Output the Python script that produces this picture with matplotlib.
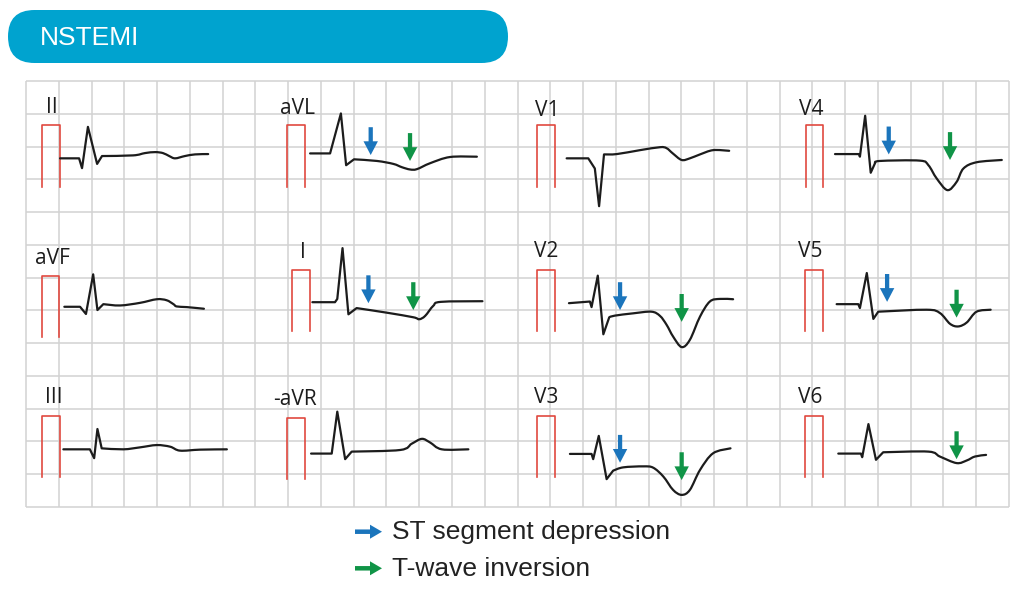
import matplotlib.pyplot as plt
from matplotlib.patches import FancyBboxPatch, PathPatch
from matplotlib.path import Path

# ECG grid: 30 x 13 large boxes, all lead data below is in box units
N_COLS = 30
N_ROWS = 13

lead_names = ["II", "aVL", "V1", "V4", "aVF", "I", "V2", "V5", "III", "-aVR", "V3", "V6"]
label_x = [0.61, 7.75, 15.53, 23.59, 0.27, 8.35, 15.50, 23.56, 0.58, 7.54, 15.50, 23.56]
label_y = [12.03, 12.00, 11.94, 11.96, 7.41, 7.59, 7.64, 7.64, 3.16, 3.11, 3.16, 3.16]

# calibration pulse: left edge and bottom
pulse_x = [0.50, 7.96, 15.61, 23.79, 0.48, 8.13, 15.61, 23.77, 0.50, 7.96, 15.61, 23.77]
pulse_y = [9.78, 9.78, 9.78, 9.78, 5.18, 5.37, 5.37, 5.37, 0.92, 0.85, 0.92, 0.92]
PULSE_W = 0.54
PULSE_H = 1.87

# where each trace starts
start_x = [1.04, 8.67, 16.50, 24.69, 1.17, 8.74, 16.57, 24.74, 1.14, 8.70, 16.60, 24.79]
start_y = [10.64, 10.79, 10.64, 10.77, 6.11, 6.25, 6.22, 6.19, 1.76, 1.63, 1.62, 1.63]

# traces: time and amplitude relative to the start point
ii_t = [0, 0.58, 0.67, 0.85, 1.13, 1.28, 2.23, 2.59, 2.90, 3.14, 3.33, 3.51, 3.81, 4.12, 4.52]
ii_v = [0, 0, -0.30, 0.96, -0.17, 0.07, 0.09, 0.16, 0.19, 0.16, 0.07, 0, 0.07, 0.12, 0.13]
avl_t = [0, 0.61, 0.94, 1.10, 1.34, 2.04, 2.54, 2.80, 3.05, 3.26, 3.66, 4.27, 5.09]
avl_v = [0, 0, 1.22, -0.36, -0.18, -0.23, -0.32, -0.42, -0.49, -0.48, -0.30, -0.11, -0.10]
v1_t = [0, 0.66, 0.86, 0.99, 1.14, 1.53, 2.24, 2.85, 3.05, 3.24, 3.51, 3.76, 4.07, 4.47, 4.96]
v1_v = [0, 0, -0.31, -1.46, 0.12, 0.13, 0.25, 0.34, 0.31, 0.15, -0.05, 0, 0.12, 0.25, 0.23]
v4_t = [0, 0.73, 0.76, 0.92, 1.09, 1.22, 1.37, 2.59, 2.85, 3.10, 3.43, 3.71, 3.92, 4.32, 5.09]
v4_v = [0, 0, -0.08, 1.17, -0.57, -0.28, -0.21, -0.20, -0.34, -0.74, -1.10, -0.85, -0.44, -0.25, -0.18]
avf_t = [0, 0.48, 0.66, 0.88, 1.01, 1.19, 1.70, 2.31, 2.82, 3.12, 3.33, 3.43, 3.74, 4.26]
avf_v = [0, 0, -0.22, 0.99, -0.10, 0.08, 0.04, 0.12, 0.23, 0.20, 0.08, 0.01, -0.01, -0.06]
i_t = [0, 0.69, 0.76, 0.92, 1.10, 1.35, 2.27, 3.08, 3.26, 3.44, 3.69, 3.92, 5.19]
i_v = [0, 0, 0.10, 1.65, -0.37, -0.18, -0.32, -0.46, -0.52, -0.42, -0.11, 0.01, 0.03]
v2_t = [0, 0.64, 0.69, 0.88, 1.05, 1.23, 1.40, 1.96, 2.52, 2.78, 2.98, 3.18, 3.44, 3.69, 4.00, 4.30, 4.61, 5.01]
v2_v = [0, 0.05, -0.12, 0.84, -0.95, -0.43, -0.38, -0.31, -0.26, -0.39, -0.66, -1.02, -1.34, -1.12, -0.41, 0.05, 0.13, 0.12]
v5_t = [0, 0.66, 0.71, 0.92, 1.12, 1.27, 2.75, 3.15, 3.46, 3.71, 3.97, 4.27, 4.70]
v5_v = [0, 0, -0.12, 0.95, -0.45, -0.23, -0.17, -0.27, -0.60, -0.68, -0.56, -0.23, -0.17]
iii_t = [0, 0.81, 0.94, 1.04, 1.17, 1.83, 2.34, 2.85, 3.26, 3.56, 4.17, 4.99]
iii_v = [0, 0, -0.27, 0.62, 0.03, 0, 0.06, 0.13, 0.08, -0.04, -0.01, 0]
avr_t = [0, 0.63, 0.80, 1.04, 1.24, 2.72, 3.07, 3.38, 3.63, 3.99, 4.80]
avr_v = [0, 0, 1.28, -0.17, 0.06, 0.11, 0.30, 0.45, 0.34, 0.13, 0.13]
v3_t = [0, 0.66, 0.71, 0.88, 1.12, 1.32, 1.63, 2.24, 2.54, 2.85, 3.15, 3.41, 3.66, 3.97, 4.37, 4.90]
v3_v = [0, 0, -0.16, 0.55, -0.77, -0.51, -0.41, -0.38, -0.42, -0.69, -1.10, -1.25, -1.10, -0.49, 0.02, 0.17]
v6_t = [0, 0.69, 0.73, 0.92, 1.15, 1.37, 2.75, 3.10, 3.61, 3.92, 4.17, 4.51]
v6_v = [0, 0, -0.11, 0.90, -0.19, 0.04, 0.06, -0.09, -0.29, -0.21, -0.09, -0.04]

trace_t = [ii_t, avl_t, v1_t, v4_t, avf_t, i_t, v2_t, v5_t, iii_t, avr_t, v3_t, v6_t]
trace_v = [ii_v, avl_v, v1_v, v4_v, avf_v, i_v, v2_v, v5_v, iii_v, avr_v, v3_v, v6_v]
# index of the J point: sharp QRS before it, smooth ST/T after it
j_point = [5, 4, 4, 5, 5, 5, 5, 5, 4, 4, 5, 5]

# arrow tips: ST depression (blue) and T-wave inversion (green)
st_x = [10.52, 26.33, 10.45, 18.13, 26.28, 18.13]
st_y = [10.74, 10.76, 6.22, 6.01, 6.26, 1.35]
tw_x = [11.72, 28.20, 11.82, 20.01, 28.40, 20.01, 28.40]
tw_y = [10.56, 10.59, 6.01, 5.65, 5.78, 0.82, 1.46]

legend_labels = ["ST segment depression", "T-wave inversion"]

BLUE = "#1b75bc"
GREEN = "#109447"
HEADER = "#00a3cf"
GRID = "#d2d2d2"
PULSE = "#e0493f"
INK = "#1c1c1c"


def trace_path(xs, ys, k):
    # straight lines through the QRS, catmull-rom curve for the rest
    pts = list(zip(xs, ys))
    n = len(pts)
    verts = [pts[0]]
    codes = [Path.MOVETO]
    for j in range(1, k + 1):
        verts.append(pts[j])
        codes.append(Path.LINETO)
    for j in range(k, n - 1):
        p0 = pts[max(j - 1, k)]
        p1 = pts[j]
        p2 = pts[j + 1]
        p3 = pts[min(j + 2, n - 1)]
        c1 = (p1[0] + (p2[0] - p0[0]) / 6, p1[1] + (p2[1] - p0[1]) / 6)
        c2 = (p2[0] - (p3[0] - p1[0]) / 6, p2[1] - (p3[1] - p1[1]) / 6)
        verts += [c1, c2, p2]
        codes += [Path.CURVE4] * 3
    return Path(verts, codes)


fig = plt.figure(figsize=(10.24, 5.93), dpi=100)

# overlay in pixel units for the header and legend
deco = fig.add_axes([0, 0, 1, 1])
deco.set_xlim(0, 1024)
deco.set_ylim(593, 0)
deco.axis("off")

deco.add_patch(FancyBboxPatch((8, 10), 500, 53, boxstyle="round,pad=0,rounding_size=26.5",
                              fc=HEADER, ec="none"))
deco.text(40, 45, "NSTEMI", color="white", fontsize=19, family="Liberation Sans", va="baseline")

for k, (lab, col) in enumerate(zip(legend_labels, [BLUE, GREEN])):
    yy = 531.7 + k * 36.6
    deco.arrow(355, yy, 27, 0, width=4.5, head_width=14, head_length=12,
               length_includes_head=True, fc=col, ec="none")
    deco.text(392, yy + 7.5, lab, color="#222222", fontsize=19, family="Liberation Sans",
              va="baseline")

# the ECG grid
ax = fig.add_axes([26 / 1024, 86 / 593, 983 / 1024, 426 / 593])
ax.set_xlim(0, N_COLS)
ax.set_ylim(0, N_ROWS)
ax.axis("off")
ax.vlines(range(N_COLS + 1), 0, N_ROWS, color=GRID, lw=1.1, clip_on=False, zorder=1)
ax.hlines(range(N_ROWS + 1), 0, N_COLS, color=GRID, lw=1.1, clip_on=False, zorder=1)

for i, name in enumerate(lead_names):
    ax.text(label_x[i], label_y[i], name, fontsize=15, family="Open Sans", color=INK,
            va="baseline", ha="left")
    px, py = pulse_x[i], pulse_y[i]
    ax.plot([px, px, px + PULSE_W, px + PULSE_W], [py, py + PULSE_H, py + PULSE_H, py],
            color=PULSE, lw=1.2, zorder=3)
    xs = [start_x[i] + t for t in trace_t[i]]
    ys = [start_y[i] + v for v in trace_v[i]]
    ax.add_patch(PathPatch(trace_path(xs, ys, j_point[i]), fill=False, ec=INK, lw=1.6,
                           joinstyle="round", capstyle="round", zorder=4))

ARROW_LEN = 0.85
for xs, ys, col in [(st_x, st_y, BLUE), (tw_x, tw_y, GREEN)]:
    for x, y in zip(xs, ys):
        ax.arrow(x, y + ARROW_LEN, 0, -ARROW_LEN, width=0.13, head_width=0.44,
                 head_length=0.42, length_includes_head=True, fc=col, ec="none", zorder=5)

fig.savefig("out.png", dpi=100)
